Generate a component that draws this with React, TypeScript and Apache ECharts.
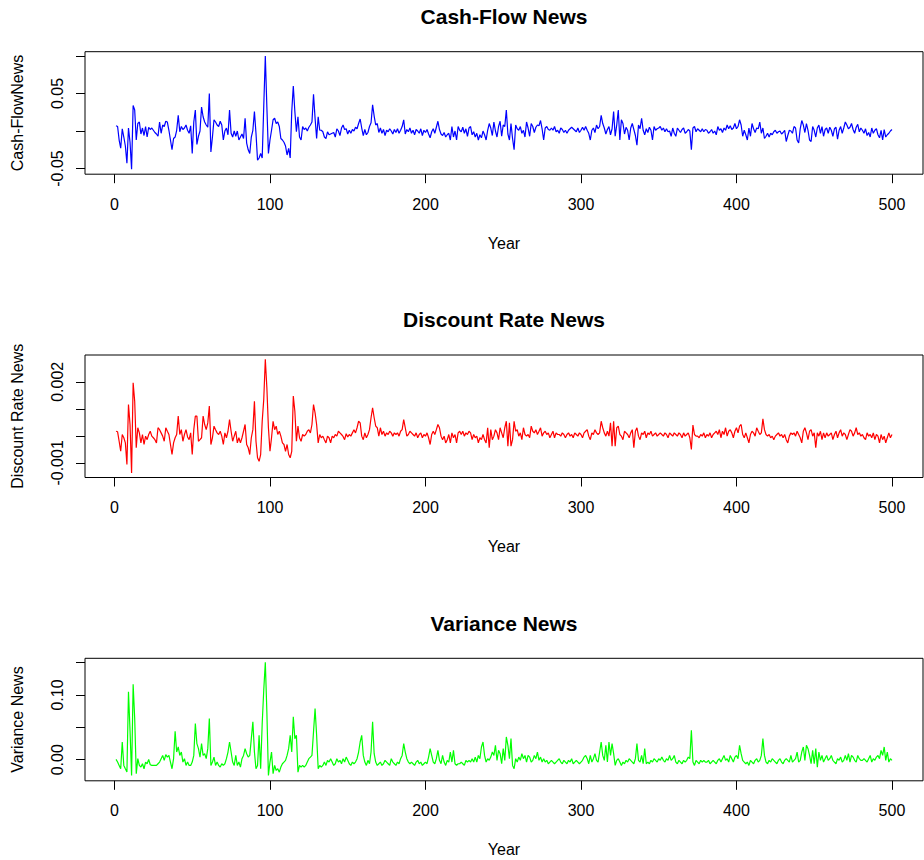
import React, { useEffect, useRef } from "react";
import * as echarts from "echarts";

// Cash-Flow News, years 1..500
const cashFlowNews = [
  0.007, 0.006, -0.012, -0.023, 0.003, -0.008, -0.020, -0.043, 0.004, -0.015,
  -0.051, 0.034, 0.028, -0.012, 0.010, 0.012, -0.004, 0.004, -0.006, 0.006,
  -0.008, 0.005, 0.002, 0.004, 0.001, -0.002, -0.004, -0.007, 0.012, -0.003,
  0.008, 0.006, 0.013, 0.012, 0.001, -0.012, -0.025, -0.010, -0.008, 0.001,
  0.021, -0.001, 0.006, 0.002, 0.004, 0.008, 0.001, -0.003, 0.007, -0.030,
  0.012, 0.028, -0.018, -0.007, 0.000, 0.032, 0.019, 0.012, 0.008, 0.005,
  0.050, -0.028, -0.008, 0.015, 0.012, 0.008, 0.006, 0.013, 0.008, -0.012,
  0.000, 0.004, -0.005, 0.028, -0.003, -0.008, 0.000, -0.007, 0.000, -0.012,
  -0.008, -0.004, -0.010, 0.017, -0.016, -0.025, -0.030, -0.008, 0.001, 0.026,
  -0.003, -0.039, -0.036, -0.030, -0.036, 0.033, 0.100, 0.032, -0.030, -0.012,
  0.001, 0.015, 0.017, 0.010, 0.012, 0.006, -0.010, -0.012, -0.015, -0.020,
  -0.032, -0.023, -0.036, 0.026, 0.060, 0.026, -0.001, 0.019, -0.008, -0.012,
  0.006, 0.002, 0.004, 0.000, 0.005, 0.008, 0.012, 0.049, 0.017, -0.010,
  0.019, 0.001, 0.001, -0.001, -0.008, -0.010, -0.001, -0.005, -0.004, -0.003,
  -0.002, -0.008, 0.003, 0.000, -0.006, 0.004, 0.008, 0.002, 0.003, -0.004,
  0.001, -0.003, 0.002, 0.000, 0.005, 0.003, 0.010, 0.016, 0.004, -0.006,
  0.002, -0.005, -0.002, 0.006, 0.011, 0.035, 0.020, 0.008, 0.010, -0.002,
  0.004, -0.003, 0.002, -0.006, 0.001, -0.001, 0.003, 0.000, -0.004, 0.002,
  -0.002, 0.003, -0.003, 0.001, 0.006, 0.015, -0.004, 0.002, -0.001, 0.004,
  -0.003, 0.001, -0.005, 0.002, 0.000, -0.003, 0.003, -0.006, 0.001, -0.002,
  0.002, -0.004, -0.009, -0.001, 0.003, -0.003, 0.005, 0.013, 0.002, -0.004,
  -0.006, -0.002, -0.008, -0.005, -0.003, -0.012, 0.006, -0.008, 0.000, -0.012,
  0.006, 0.001, -0.001, 0.005, -0.003, 0.003, -0.007, 0.004, 0.006, -0.005,
  -0.001, -0.008, -0.003, -0.012, -0.005, -0.009, 0.000, -0.005, -0.012, 0.001,
  0.010, 0.004, -0.006, 0.012, 0.000, -0.008, 0.006, 0.013, -0.007, 0.008,
  0.006, 0.028, -0.004, -0.012, 0.010, -0.010, -0.025, 0.008, 0.003, 0.001,
  0.006, -0.003, 0.001, -0.008, 0.012, 0.004, -0.007, 0.010, 0.006, -0.002,
  0.005, 0.008, 0.007, 0.014, 0.003, -0.012, 0.004, 0.006, 0.002, 0.001,
  0.004, 0.001, 0.006, -0.001, 0.001, -0.003, 0.004, 0.002, -0.002, 0.001,
  -0.003, 0.001, 0.003, 0.005, 0.003, 0.001, -0.001, 0.004, -0.002, 0.001,
  0.005, 0.001, 0.006, 0.001, -0.003, -0.012, 0.001, 0.004, -0.002, 0.008,
  0.003, 0.006, 0.021, 0.010, 0.004, -0.004, 0.002, 0.006, -0.005, 0.003,
  0.026, -0.007, 0.008, 0.028, -0.012, 0.015, 0.010, -0.004, 0.005, 0.001,
  -0.012, 0.004, 0.010, 0.002, -0.006, -0.019, 0.008, 0.003, 0.017, 0.001,
  -0.005, 0.003, -0.002, 0.005, 0.001, -0.012, 0.006, 0.001, 0.003, 0.004,
  0.006, 0.001, 0.004, -0.001, 0.003, -0.001, 0.000, -0.007, 0.004, -0.003,
  -0.007, 0.004, 0.001, -0.002, 0.002, 0.004, -0.003, -0.001, 0.002, 0.000,
  -0.025, 0.004, 0.006, -0.001, 0.003, 0.001, -0.001, 0.003, -0.001, 0.002,
  0.001, -0.003, -0.001, 0.002, -0.003, 0.000, -0.005, 0.006, 0.001, 0.003,
  -0.002, 0.004, 0.001, 0.008, 0.003, 0.007, 0.002, 0.004, 0.010, 0.003,
  0.006, 0.015, 0.008, -0.007, 0.001, -0.005, -0.012, 0.004, -0.007, 0.010,
  0.003, -0.002, 0.004, 0.003, 0.012, -0.003, 0.004, -0.010, -0.007, -0.003,
  -0.008, -0.003, -0.005, -0.001, 0.001, -0.003, -0.001, 0.000, -0.004, -0.002,
  0.001, -0.014, -0.006, 0.001, 0.000, -0.003, 0.006, 0.004, -0.012, -0.016,
  0.003, 0.014, 0.008, -0.002, 0.010, 0.001, -0.012, -0.014, 0.006, 0.001,
  -0.008, 0.004, 0.008, -0.003, 0.006, -0.007, 0.002, 0.004, -0.003, 0.005,
  0.001, -0.007, 0.003, 0.005, -0.011, 0.001, 0.006, -0.003, 0.004, 0.012,
  0.008, 0.003, 0.005, 0.010, 0.002, -0.003, 0.005, 0.009, -0.001, 0.004,
  0.001, -0.003, 0.003, -0.006, -0.002, -0.008, 0.004, -0.003, 0.001, 0.003,
  -0.005, -0.009, 0.001, -0.012, 0.002, -0.008, -0.005, -0.003, 0.000, 0.002,
];

// Discount Rate News, years 1..500
const discountRateNews = [
  0.00017, 0.00015, -0.00020, -0.00057, 0.00005, -0.00007, -0.00026, -0.00106, 0.00116, 0.00042,
  -0.00137, 0.00196, 0.00128, -0.00044, 0.00030, 0.00011, -0.00026, 0.00005, -0.00032, -0.00001,
  -0.00014, 0.00005, 0.00017, -0.00001, -0.00007, -0.00014, -0.00026, 0.00030, 0.00023, 0.00011,
  -0.00001, -0.00020, 0.00030, 0.00017, 0.00005, -0.00032, -0.00069, -0.00026, -0.00007, 0.00005,
  0.00073, 0.00005, 0.00023, -0.00020, 0.00005, 0.00023, -0.00004, -0.00014, 0.00011, -0.00069,
  0.00023, 0.00073, 0.00073, -0.00020, -0.00014, -0.00007, 0.00073, 0.00042, 0.00023, 0.00048,
  0.00110, -0.00032, -0.00007, 0.00036, 0.00023, 0.00011, 0.00005, 0.00017, -0.00001, -0.00032,
  0.00011, -0.00007, 0.00017, 0.00060, 0.00017, -0.00020, -0.00001, 0.00017, -0.00026, -0.00007,
  -0.00026, -0.00007, 0.00017, 0.00042, -0.00032, -0.00044, -0.00069, -0.00007, 0.00023, 0.00128,
  -0.00020, -0.00081, -0.00094, -0.00069, 0.00054, 0.00135, 0.00283, 0.00178, 0.00030, -0.00057,
  -0.00007, 0.00054, 0.00023, 0.00036, 0.00005, 0.00017, -0.00001, -0.00026, -0.00032, -0.00057,
  -0.00032, -0.00069, -0.00081, -0.00057, 0.00147, 0.00091, -0.00020, 0.00036, -0.00007, -0.00020,
  0.00005, -0.00001, 0.00005, 0.00017, 0.00023, 0.00011, 0.00042, 0.00116, 0.00085, 0.00042,
  -0.00026, 0.00005, -0.00007, -0.00001, -0.00014, -0.00026, -0.00001, -0.00007, -0.00026, -0.00001,
  -0.00007, 0.00005, -0.00001, 0.00017, 0.00011, 0.00005, -0.00002, -0.00014, 0.00008, -0.00004,
  0.00005, -0.00001, 0.00011, 0.00023, 0.00011, 0.00030, 0.00054, 0.00048, -0.00001, -0.00014,
  0.00011, -0.00007, 0.00005, 0.00023, 0.00067, 0.00104, 0.00067, 0.00036, 0.00030, -0.00001,
  0.00030, 0.00005, 0.00017, -0.00001, 0.00011, 0.00005, 0.00017, 0.00011, -0.00001, 0.00011,
  0.00005, 0.00011, -0.00001, 0.00017, 0.00023, 0.00060, 0.00030, -0.00001, 0.00005, 0.00017,
  0.00011, 0.00005, -0.00001, 0.00011, -0.00007, 0.00005, 0.00011, -0.00007, 0.00005, -0.00001,
  0.00011, -0.00007, -0.00032, 0.00005, 0.00017, 0.00005, 0.00023, 0.00042, 0.00030, -0.00001,
  -0.00014, -0.00001, -0.00026, -0.00014, 0.00005, -0.00026, 0.00011, -0.00007, 0.00005, -0.00026,
  0.00011, 0.00017, 0.00005, 0.00017, -0.00001, 0.00011, 0.00005, 0.00017, 0.00011, -0.00014,
  0.00005, -0.00007, -0.00001, -0.00026, -0.00007, -0.00014, 0.00005, -0.00014, -0.00026, 0.00030,
  -0.00044, 0.00023, -0.00014, -0.00001, 0.00023, 0.00011, -0.00014, 0.00030, 0.00011, -0.00007,
  0.00030, 0.00054, -0.00038, 0.00048, -0.00038, -0.00014, 0.00054, 0.00017, 0.00023, -0.00001,
  0.00011, -0.00014, 0.00030, 0.00005, -0.00001, 0.00005, -0.00007, 0.00036, 0.00017, 0.00011,
  0.00023, 0.00005, 0.00017, 0.00030, -0.00001, 0.00011, 0.00017, 0.00005, 0.00011, -0.00007,
  0.00005, 0.00017, -0.00007, 0.00011, 0.00005, 0.00005, -0.00001, 0.00011, 0.00005, -0.00007,
  0.00005, 0.00011, -0.00001, 0.00005, -0.00007, 0.00011, 0.00005, -0.00001, 0.00011, 0.00005,
  -0.00007, 0.00011, 0.00017, 0.00023, -0.00001, -0.00014, 0.00011, 0.00005, 0.00023, 0.00011,
  0.00005, 0.00011, 0.00054, 0.00030, 0.00011, -0.00001, 0.00017, -0.00001, 0.00048, -0.00038,
  0.00054, -0.00038, 0.00030, 0.00036, 0.00005, -0.00001, -0.00014, 0.00017, 0.00011, 0.00005,
  -0.00007, 0.00011, 0.00023, -0.00044, 0.00017, 0.00030, -0.00001, -0.00014, 0.00011, 0.00005,
  0.00017, -0.00007, 0.00011, 0.00005, 0.00017, -0.00001, 0.00005, 0.00011, -0.00001, 0.00005,
  0.00011, 0.00005, -0.00001, 0.00011, 0.00005, -0.00007, 0.00011, 0.00005, -0.00001, 0.00011,
  0.00005, -0.00001, 0.00011, 0.00005, -0.00007, 0.00011, -0.00001, 0.00005, 0.00011, -0.00007,
  -0.00050, 0.00040, 0.00005, -0.00001, -0.00001, -0.00007, 0.00005, -0.00001, 0.00011, -0.00007,
  0.00005, -0.00001, 0.00011, -0.00007, 0.00005, 0.00011, 0.00017, 0.00005, 0.00023, -0.00007,
  0.00017, 0.00005, 0.00030, -0.00001, 0.00017, 0.00023, 0.00011, -0.00007, 0.00017, 0.00030,
  0.00011, 0.00036, 0.00042, 0.00005, -0.00007, 0.00011, -0.00007, -0.00026, 0.00005, 0.00017,
  0.00011, -0.00001, 0.00030, 0.00017, 0.00005, 0.00011, 0.00063, 0.00023, 0.00005, -0.00001,
  0.00005, -0.00007, -0.00001, -0.00014, -0.00001, 0.00005, 0.00011, -0.00001, 0.00005, -0.00007,
  0.00005, -0.00014, -0.00026, -0.00001, 0.00011, 0.00005, 0.00011, -0.00001, 0.00017, 0.00005,
  -0.00007, -0.00026, 0.00017, 0.00030, 0.00011, -0.00014, 0.00017, 0.00023, -0.00001, 0.00011,
  -0.00044, 0.00011, -0.00001, 0.00017, -0.00014, 0.00011, -0.00007, 0.00011, -0.00001, 0.00005,
  0.00011, -0.00014, 0.00005, 0.00017, -0.00007, 0.00011, 0.00023, -0.00001, 0.00011, 0.00005,
  -0.00014, 0.00005, 0.00023, 0.00017, -0.00001, 0.00011, 0.00030, 0.00005, 0.00011, -0.00001,
  0.00005, -0.00007, -0.00014, 0.00011, -0.00001, 0.00005, -0.00007, 0.00011, -0.00014, 0.00005,
  -0.00001, -0.00026, 0.00005, -0.00014, -0.00001, -0.00026, -0.00007, 0.00011, -0.00007, 0.00005,
];

// Variance News, years 1..500
const varianceNews = [
  0.0005, -0.0036, -0.0088, -0.0140, 0.0274, -0.0088, -0.0140, -0.0190, 0.1050, 0.0450,
  -0.0243, 0.1165, 0.0637, -0.0217, 0.0016, -0.0088, -0.0114, -0.0062, -0.0140, -0.0036,
  -0.0062, 0.0005, -0.0078, -0.0088, -0.0088, -0.0088, -0.0088, -0.0062, -0.0036, 0.0016,
  0.0067, -0.0010, 0.0078, 0.0041, 0.0067, -0.0036, -0.0140, 0.0016, 0.0440, 0.0119,
  0.0197, 0.0067, 0.0119, -0.0036, 0.0016, -0.0088, -0.0036, -0.0088, -0.0088, -0.0036,
  0.0067, 0.0559, 0.0248, 0.0171, 0.0041, 0.0248, 0.0067, 0.0093, 0.0016, 0.0171,
  0.0637, -0.0088, -0.0036, 0.0041, -0.0088, -0.0036, -0.0088, -0.0114, -0.0062, -0.0088,
  -0.0062, 0.0016, 0.0119, 0.0274, 0.0119, -0.0036, -0.0088, 0.0067, -0.0088, -0.0036,
  -0.0114, 0.0016, 0.0067, 0.0171, 0.0093, 0.0041, 0.0067, 0.0326, 0.0585, 0.0119,
  -0.0140, -0.0088, 0.0378, -0.0140, 0.0559, 0.1077, 0.1506, 0.0740, -0.0243, -0.0036,
  0.0119, -0.0217, -0.0088, -0.0166, -0.0140, -0.0192, -0.0114, -0.0062, -0.0036, -0.0010,
  0.0067, 0.0171, 0.0378, 0.0119, 0.0663, 0.0326, 0.0378, -0.0192, -0.0088, -0.0114,
  -0.0088, -0.0114, -0.0088, -0.0036, 0.0016, 0.0041, 0.0067, 0.0430, 0.0792, 0.0378,
  -0.0140, -0.0088, -0.0114, -0.0088, -0.0036, -0.0088, -0.0010, -0.0036, 0.0016, -0.0036,
  -0.0088, -0.0062, 0.0016, -0.0036, -0.0010, -0.0062, 0.0016, -0.0036, 0.0041, -0.0010,
  -0.0062, -0.0088, -0.0036, -0.0062, -0.0036, 0.0016, 0.0119, 0.0274, 0.0378, 0.0067,
  -0.0036, -0.0088, -0.0010, -0.0062, 0.0119, 0.0585, 0.0093, -0.0036, -0.0088, -0.0062,
  -0.0036, -0.0088, -0.0062, -0.0010, -0.0036, -0.0062, -0.0088, 0.0016, -0.0036, -0.0062,
  -0.0088, -0.0036, -0.0062, 0.0016, 0.0067, 0.0248, 0.0119, 0.0016, -0.0036, -0.0062,
  -0.0036, -0.0062, -0.0088, -0.0036, -0.0010, -0.0062, -0.0036, -0.0088, -0.0062, -0.0036,
  -0.0062, 0.0041, 0.0171, 0.0067, -0.0036, -0.0062, 0.0016, 0.0145, -0.0010, -0.0062,
  0.0067, -0.0036, -0.0088, -0.0010, -0.0036, 0.0119, -0.0036, 0.0145, -0.0062, -0.0088,
  -0.0062, -0.0062, -0.0036, -0.0062, -0.0088, -0.0010, -0.0036, -0.0010, -0.0036, 0.0016,
  -0.0036, 0.0041, -0.0036, 0.0067, 0.0016, 0.0197, 0.0274, 0.0067, -0.0036, 0.0016,
  -0.0010, 0.0041, 0.0119, 0.0067, 0.0223, -0.0010, 0.0145, 0.0093, -0.0062, 0.0171,
  -0.0010, 0.0352, 0.0223, 0.0016, 0.0326, -0.0088, -0.0140, 0.0016, -0.0036, 0.0041,
  -0.0010, 0.0093, 0.0016, 0.0067, -0.0036, 0.0067, 0.0041, -0.0036, -0.0010, 0.0067,
  0.0016, 0.0119, -0.0010, 0.0041, -0.0036, 0.0016, -0.0036, -0.0010, -0.0062, -0.0036,
  -0.0010, -0.0036, -0.0062, -0.0036, -0.0010, 0.0016, -0.0036, -0.0062, -0.0010, -0.0036,
  -0.0062, -0.0010, -0.0036, 0.0016, -0.0062, -0.0036, -0.0010, -0.0036, -0.0062, -0.0036,
  -0.0010, 0.0041, 0.0067, 0.0016, -0.0062, 0.0067, -0.0036, 0.0016, 0.0093, -0.0010,
  -0.0036, 0.0119, 0.0274, 0.0067, -0.0010, 0.0223, -0.0036, 0.0274, 0.0067, 0.0248,
  0.0093, -0.0088, -0.0010, 0.0016, -0.0036, -0.0088, -0.0036, -0.0062, -0.0010, -0.0036,
  0.0016, -0.0010, -0.0036, -0.0062, 0.0016, 0.0248, -0.0010, -0.0036, 0.0067, -0.0062,
  0.0171, -0.0062, -0.0036, -0.0062, -0.0010, -0.0036, 0.0016, -0.0010, -0.0036, 0.0016,
  -0.0010, 0.0041, -0.0010, -0.0036, 0.0016, -0.0010, 0.0067, -0.0010, 0.0016, 0.0067,
  -0.0036, -0.0062, -0.0010, -0.0036, -0.0062, -0.0010, -0.0036, -0.0010, 0.0041, 0.0016,
  0.0455, -0.0036, -0.0088, -0.0010, -0.0036, -0.0062, -0.0010, -0.0036, -0.0010, -0.0036,
  -0.0036, -0.0010, -0.0062, -0.0036, -0.0010, -0.0036, -0.0062, -0.0010, 0.0016, -0.0036,
  0.0016, 0.0067, -0.0010, 0.0016, -0.0036, 0.0067, 0.0016, -0.0036, 0.0041, 0.0067,
  0.0016, 0.0223, 0.0093, -0.0010, -0.0036, -0.0062, -0.0036, -0.0088, -0.0010, -0.0036,
  -0.0062, -0.0010, 0.0016, -0.0036, -0.0010, 0.0067, 0.0326, 0.0067, -0.0036, -0.0062,
  -0.0010, -0.0036, 0.0016, -0.0010, -0.0036, -0.0062, -0.0010, 0.0016, -0.0036, -0.0062,
  -0.0010, 0.0016, -0.0010, -0.0036, 0.0067, -0.0036, -0.0010, 0.0016, 0.0119, -0.0036,
  -0.0010, 0.0119, 0.0197, -0.0010, 0.0223, 0.0171, 0.0067, -0.0062, 0.0145, -0.0062,
  0.0171, -0.0114, 0.0119, -0.0010, 0.0067, -0.0036, 0.0016, 0.0067, -0.0010, 0.0016,
  0.0067, -0.0010, -0.0036, -0.0062, 0.0016, -0.0010, 0.0041, -0.0036, -0.0010, 0.0067,
  -0.0010, 0.0093, -0.0036, 0.0067, 0.0041, -0.0010, -0.0036, 0.0067, 0.0016, -0.0010,
  -0.0010, 0.0016, -0.0010, -0.0036, 0.0016, 0.0067, -0.0036, 0.0016, -0.0010, 0.0041,
  0.0067, 0.0016, 0.0145, 0.0067, 0.0197, -0.0010, 0.0119, -0.0036, 0.0016, -0.0010,
];

const years = cashFlowNews.map((_, i) => i + 1);
const yearTicks = [0, 100, 200, 300, 400, 500];

const panelTitles = ["Cash-Flow News", "Discount Rate News", "Variance News"];
const yAxisNames = ["Cash-FlowNews", "Discount Rate News", "Variance News"];
const cashFlowTicks = [-0.05, 0, 0.05, 0.1];
const cashFlowTickLabels = [-0.05, 0.05];
const discountTicks = [-0.001, 0, 0.001, 0.002];
const discountTickLabels = [-0.001, 0.002];
const varianceTicks = [0, 0.05, 0.1, 0.15];
const varianceTickLabels = [0, 0.1];

const FONT = "'Liberation Sans', Arial, sans-serif";

function buildOption() {
  const panels = [
    { data: cashFlowNews, color: "#0000FF", ticks: cashFlowTicks, labels: cashFlowTickLabels, dec: 2, min: -0.0576, max: 0.1058 },
    { data: discountRateNews, color: "#FF0000", ticks: discountTicks, labels: discountTickLabels, dec: 3, min: -0.00154, max: 0.00299 },
    { data: varianceNews, color: "#00FF00", ticks: varianceTicks, labels: varianceTickLabels, dec: 2, min: -0.0326, max: 0.1568 },
  ];
  const step = 303.3;
  const textBase = { color: "#000", fontFamily: FONT };
  return {
    animation: false,
    backgroundColor: "#fff",
    title: panels.map((_, k) => ({
      text: panelTitles[k],
      left: 504,
      top: 6 + step * k,
      textAlign: "center",
      padding: 0,
      textStyle: { ...textBase, fontSize: 21, fontWeight: "bold" },
    })),
    grid: panels.map((_, k) => ({
      left: 85,
      width: 838,
      top: 51.7 + step * k,
      height: 122.5,
      show: true,
      borderColor: "#000",
      borderWidth: 1,
      backgroundColor: "transparent",
    })),
    xAxis: panels.map((_, k) => ({
      type: "value",
      gridIndex: k,
      min: -18.96,
      max: 519.96,
      splitLine: { show: false },
      axisLine: { show: false, onZero: false },
      axisTick: { show: true, customValues: yearTicks, length: 9, lineStyle: { color: "#000", width: 1 } },
      axisLabel: { customValues: yearTicks, margin: 22, fontSize: 16, ...textBase },
      name: "Year",
      nameLocation: "middle",
      nameGap: 61,
      nameTextStyle: { fontSize: 16, ...textBase },
    })),
    yAxis: panels.map((p, k) => ({
      type: "value",
      gridIndex: k,
      min: p.min,
      max: p.max,
      splitLine: { show: false },
      axisLine: { show: false, onZero: false },
      axisTick: { show: true, customValues: p.ticks, length: 9, lineStyle: { color: "#000", width: 1 } },
      axisLabel: {
        customValues: p.labels,
        rotate: 90,
        margin: 20,
        fontSize: 16,
        ...textBase,
        formatter: (v: number) => v.toFixed(p.dec),
      },
      name: yAxisNames[k],
      nameLocation: "middle",
      nameRotate: 90,
      nameGap: 60,
      nameTextStyle: { fontSize: 16, ...textBase },
    })),
    series: panels.map((p, k) => ({
      type: "line",
      xAxisIndex: k,
      yAxisIndex: k,
      data: years.map((yr, i) => [yr, p.data[i]]),
      symbol: "none",
      showSymbol: false,
      silent: true,
      lineStyle: { color: p.color, width: 1.2 },
      itemStyle: { color: p.color },
    })),
  };
}

export default function App() {
  const ref = useRef<HTMLDivElement>(null);
  useEffect(() => {
    if (!ref.current) return;
    const chart = echarts.init(ref.current, null, { renderer: "svg" });
    chart.setOption(buildOption() as any);
    return () => chart.dispose();
  }, []);
  return (
    <div
      ref={ref}
      style={{ position: "absolute", left: 0, top: 0, width: 924, height: 860, background: "#fff" }}
    />
  );
}
